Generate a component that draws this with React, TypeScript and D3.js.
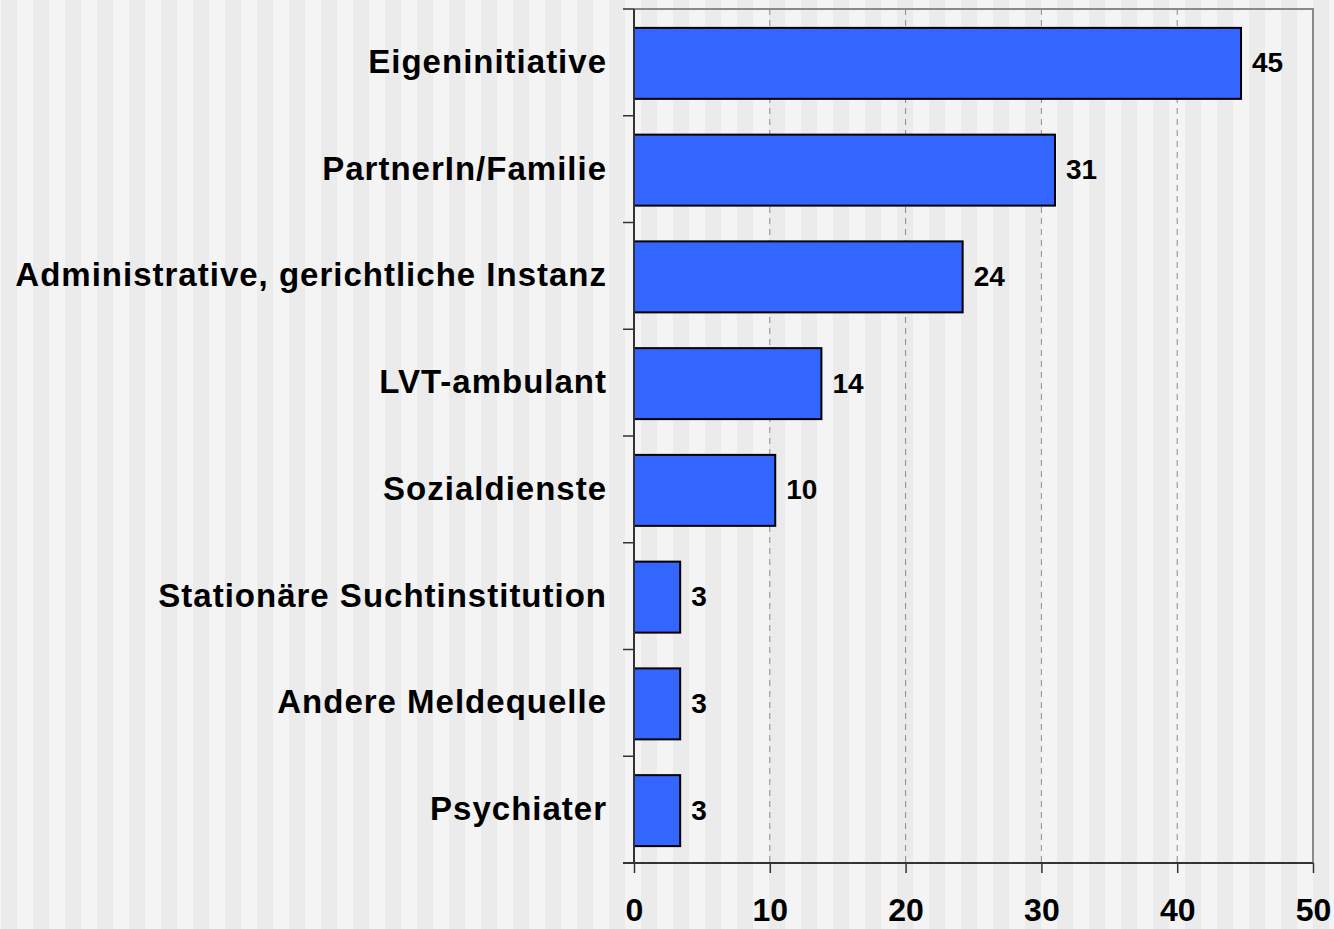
import React, { useEffect, useRef } from 'react';
import * as d3 from 'd3';

const categories = [
  'Eigeninitiative',
  'PartnerIn/Familie',
  'Administrative, gerichtliche Instanz',
  'LVT-ambulant',
  'Sozialdienste',
  'Stationäre Suchtinstitution',
  'Andere Meldequelle',
  'Psychiater',
];
const values = [44.7, 31.0, 24.2, 13.8, 10.4, 3.4, 3.4, 3.4];
const valueLabels = ['45', '31', '24', '14', '10', '3', '3', '3'];
const xTicks = [0, 10, 20, 30, 40, 50];

const W = 1334;
const H = 929;
const FONT = 'Arial, "Liberation Sans", sans-serif';

const App = () => {
  const ref = useRef<SVGSVGElement>(null);

  useEffect(() => {
    const svg = d3.select(ref.current);
    svg.selectAll('*').remove();

    const margin = { top: 9, right: 21, bottom: 66, left: 634 };
    const plotW = W - margin.left - margin.right;
    const plotH = H - margin.top - margin.bottom;

    // striped background
    const stripes = d3.range(-1, Math.ceil(W / 16) + 1);
    svg
      .append('g')
      .selectAll('rect')
      .data(stripes)
      .enter()
      .append('rect')
      .attr('x', d => 1 + d * 16)
      .attr('y', 0)
      .attr('width', 16)
      .attr('height', H)
      .attr('fill', d => (Math.abs(d) % 2 === 0 ? '#ebebeb' : '#f4f4f4'));

    const g = svg.append('g').attr('transform', `translate(${margin.left},${margin.top})`);

    const x = d3.scaleLinear().domain([0, 50]).range([0, plotW]);
    const y = d3.scaleBand().domain(categories).range([0, plotH]).paddingInner(0.335).paddingOuter(0.1675);

    // gridlines
    g.selectAll('.grid')
      .data(xTicks.filter(t => t > 0 && t < 50))
      .enter()
      .append('line')
      .attr('x1', d => x(d))
      .attr('x2', d => x(d))
      .attr('y1', 0)
      .attr('y2', plotH)
      .attr('stroke', '#8c8c8c')
      .attr('stroke-width', 1)
      .attr('stroke-dasharray', '6,5');

    // top and right border
    g.append('path')
      .attr('d', `M0,0H${plotW}V${plotH}`)
      .attr('fill', 'none')
      .attr('stroke', '#8a8a8a')
      .attr('stroke-width', 2);

    // bars
    g.selectAll('.bar')
      .data(categories)
      .enter()
      .append('rect')
      .attr('x', 0)
      .attr('y', d => y(d)! + 1)
      .attr('width', (d, i) => x(values[i]))
      .attr('height', y.bandwidth())
      .attr('fill', '#3366ff')
      .attr('stroke', '#000')
      .attr('stroke-width', 2);

    // value labels
    g.selectAll('.vlabel')
      .data(categories)
      .enter()
      .append('text')
      .attr('x', (d, i) => x(values[i]) + 11)
      .attr('y', d => y(d)! + y.bandwidth() / 2 + 10)
      .text((d, i) => valueLabels[i])
      .style('font-family', FONT)
      .style('font-weight', 'bold')
      .style('font-size', '28px')
      .style('fill', '#000');

    // y axis
    const yAxis = g.append('g').call(d3.axisLeft(y).tickSize(0).tickPadding(27));
    yAxis.select('.domain').remove();
    yAxis
      .selectAll('text')
      .style('font-family', FONT)
      .style('font-weight', 'bold')
      .style('font-size', '33px')
      .style('letter-spacing', '1px')
      .style('fill', '#000');
    // category boundary ticks
    const bounds = d3.range(categories.length + 1).map(i => (i * plotH) / categories.length);
    g.selectAll('.ytick')
      .data(bounds)
      .enter()
      .append('line')
      .attr('x1', -11)
      .attr('x2', 0)
      .attr('y1', d => d)
      .attr('y2', d => d)
      .attr('stroke', '#333')
      .attr('stroke-width', 1.5);
    g.append('line')
      .attr('x1', 0)
      .attr('x2', 0)
      .attr('y1', 0)
      .attr('y2', plotH)
      .attr('stroke', '#333')
      .attr('stroke-width', 2);

    // x axis
    const xAxis = g
      .append('g')
      .attr('transform', `translate(0,${plotH})`)
      .call(d3.axisBottom(x).tickValues(xTicks).tickSize(10).tickPadding(25).tickFormat(d3.format('d')));
    xAxis.select('.domain').remove();
    xAxis.selectAll('line').attr('stroke', '#333').attr('stroke-width', 1.5);
    xAxis
      .selectAll('text')
      .style('font-family', FONT)
      .style('font-weight', 'bold')
      .style('font-size', '32px')
      .style('fill', '#000');
    g.append('line')
      .attr('x1', -11)
      .attr('x2', plotW)
      .attr('y1', plotH)
      .attr('y2', plotH)
      .attr('stroke', '#333')
      .attr('stroke-width', 2);
  }, []);

  return (
    <div>
      <style>{`body{margin:0;overflow:hidden}`}</style>
      <svg ref={ref} width={W} height={H} style={{ display: 'block' }}></svg>
    </div>
  );
};

export default App;
